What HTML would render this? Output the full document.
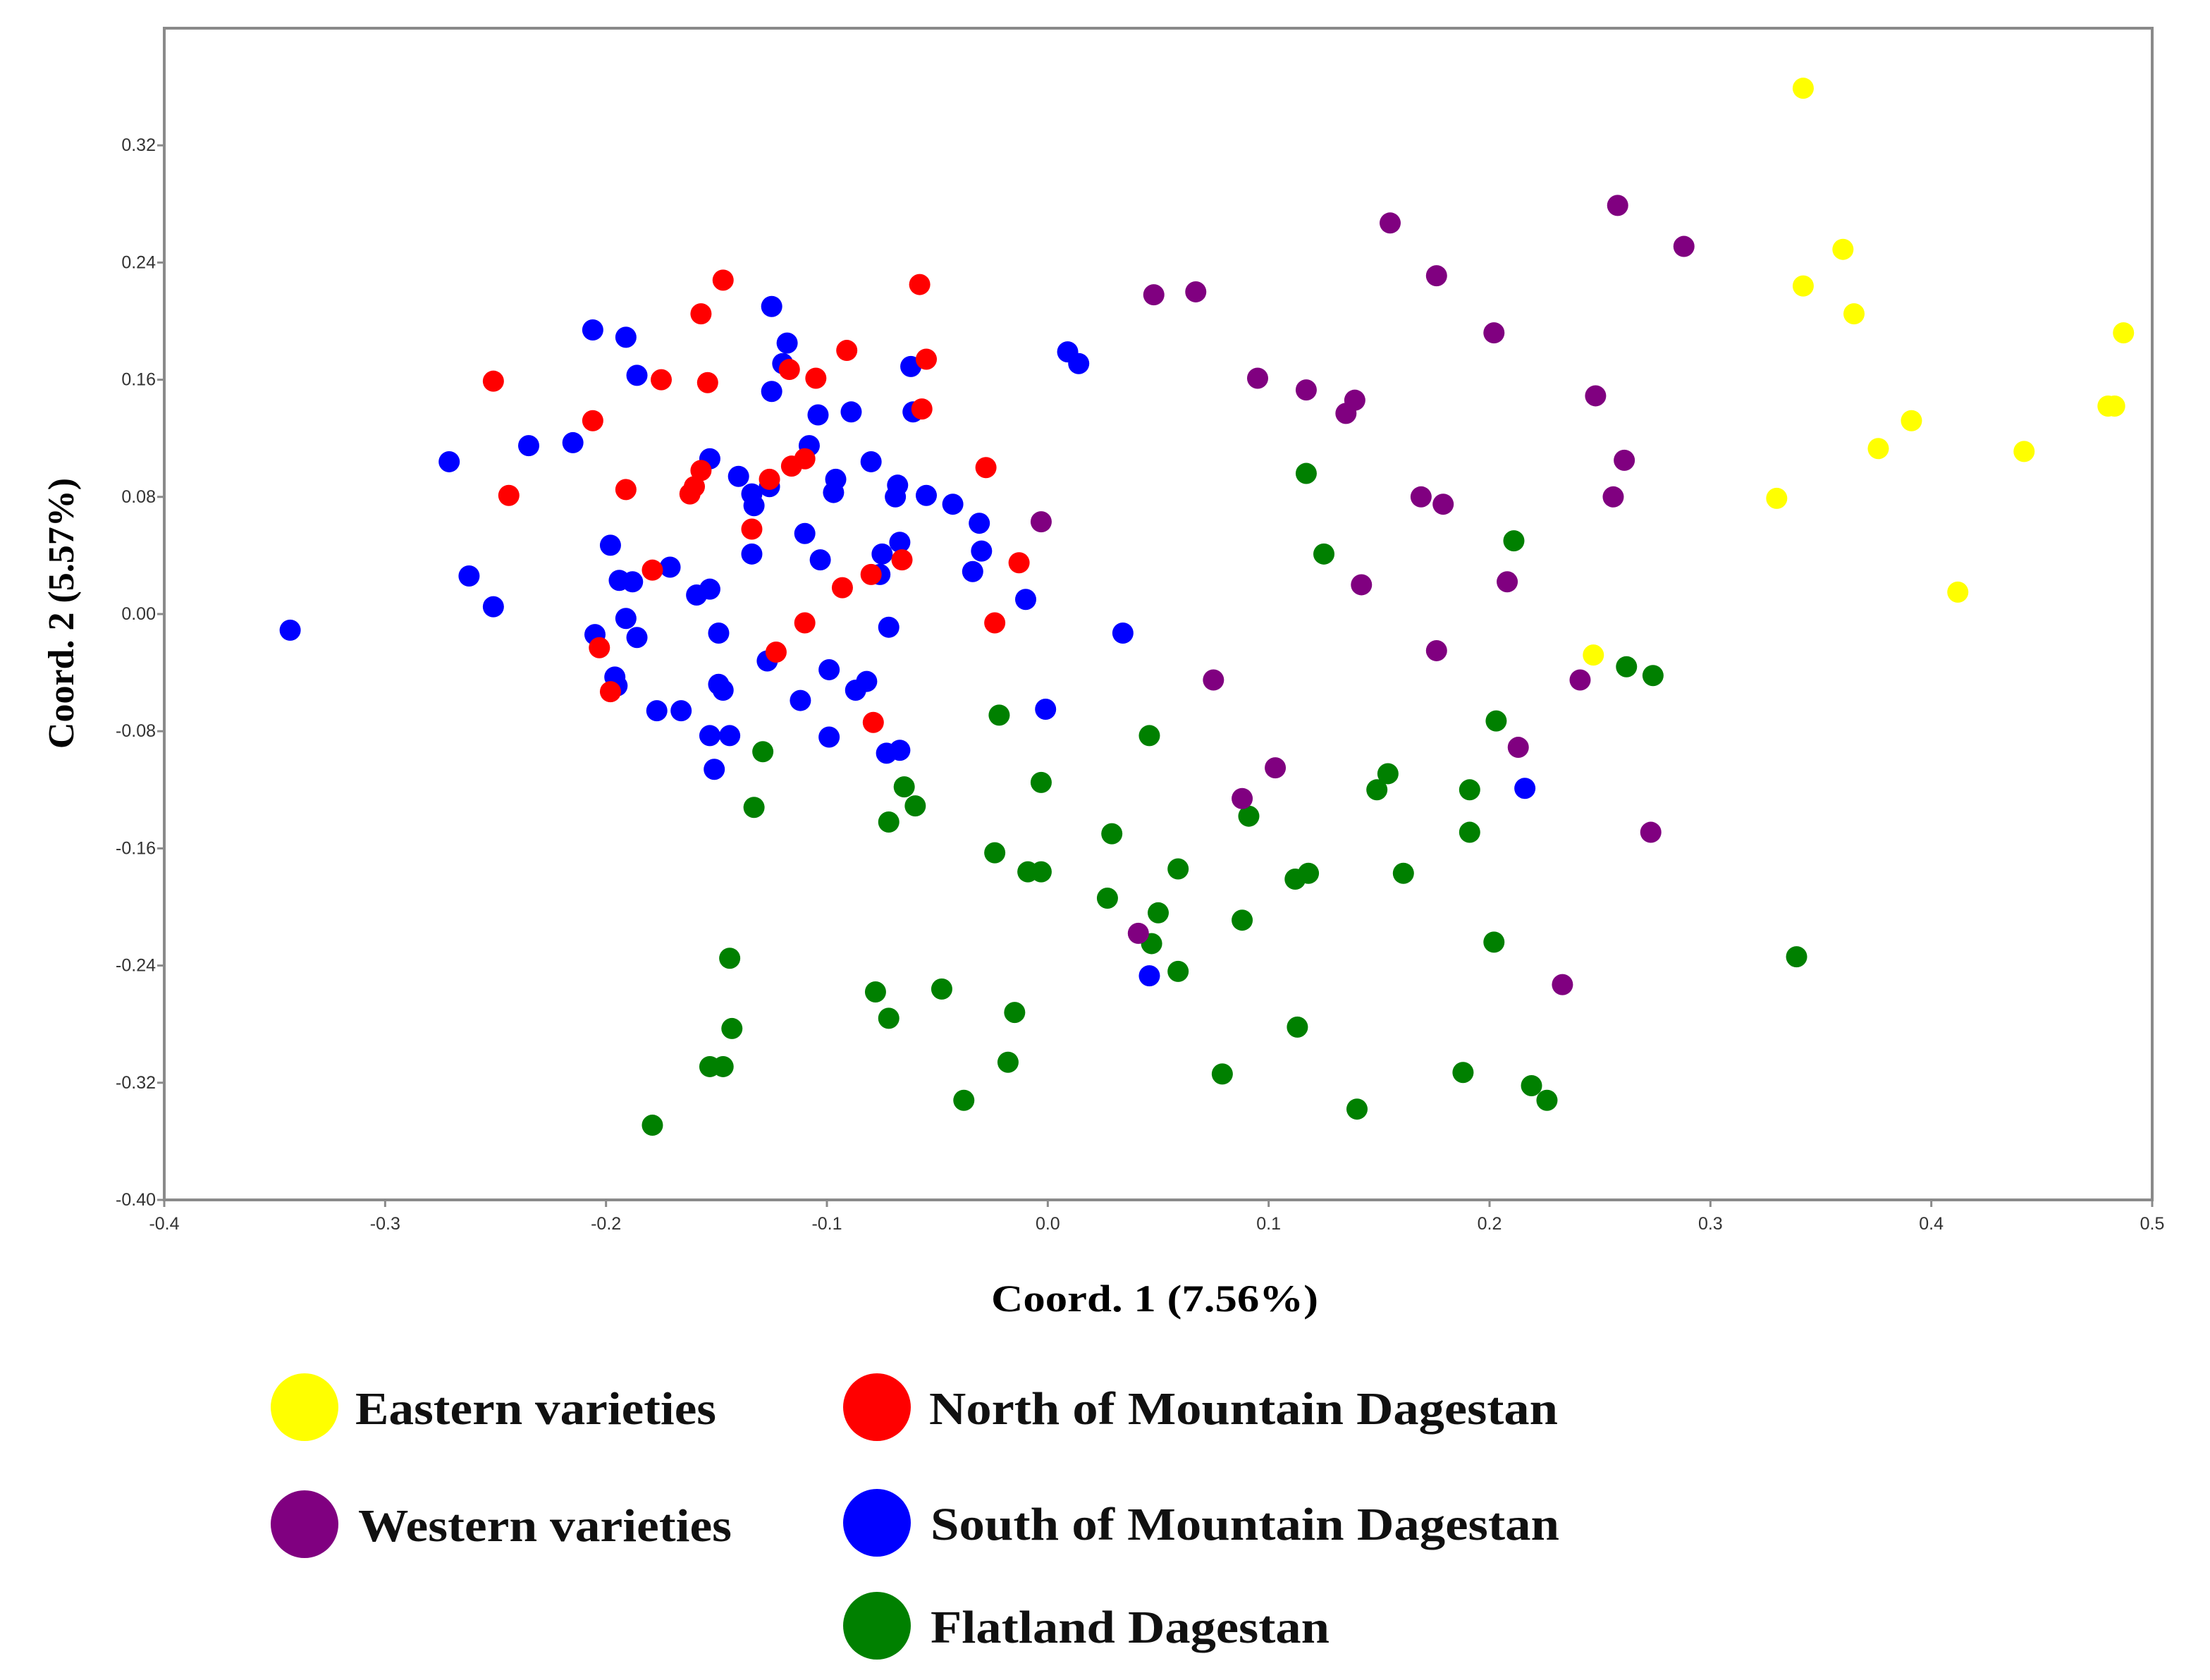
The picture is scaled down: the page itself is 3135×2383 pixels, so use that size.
<!DOCTYPE html>
<html><head><meta charset="utf-8"><style>
html,body{margin:0;padding:0;background:#fff;}
svg{display:block;}
</style></head><body>
<svg id="chart" width="3135" height="2383" xmlns="http://www.w3.org/2000/svg">
<g id="grid"></g>
<g id="pts"></g>
<text x="1406" y="1860" textLength="464" lengthAdjust="spacingAndGlyphs" font-family="Liberation Serif, serif" font-weight="bold" font-size="54">Coord. 1 (7.56%)</text>
<text transform="translate(104,870) rotate(-90)" text-anchor="middle" font-family="Liberation Serif, serif" font-weight="bold" font-size="52">Coord. 2 (5.57%)</text>
<g font-family="Liberation Serif, serif" font-weight="bold" font-size="66" fill="#111">
<g><circle cx="432" cy="1996" r="48" fill="#ffff00"/><text x="504" y="2020" textLength="512" lengthAdjust="spacingAndGlyphs">Eastern varieties</text></g>
<g><circle cx="432" cy="2162" r="48" fill="#800080"/><text x="508" y="2186" textLength="530" lengthAdjust="spacingAndGlyphs">Western varieties</text></g>
<g><circle cx="1244" cy="1996" r="48" fill="#ff0000"/><text x="1318" y="2020" textLength="892" lengthAdjust="spacingAndGlyphs">North of Mountain Dagestan</text></g>
<g><circle cx="1244" cy="2160" r="48" fill="#0000ff"/><text x="1320" y="2184" textLength="892" lengthAdjust="spacingAndGlyphs">South of Mountain Dagestan</text></g>
<g><circle cx="1244" cy="2306" r="48" fill="#008000"/><text x="1320" y="2330" textLength="566" lengthAdjust="spacingAndGlyphs">Flatland Dagestan</text></g>
</g>
</svg>
<script>
const xTicks=[-0.4,-0.3,-0.2,-0.1,0,0.1,0.2,0.3,0.4,0.5];
const xTickLabels=["-0.4","-0.3","-0.2","-0.1","0.0","0.1","0.2","0.3","0.4","0.5"];
const yTicks=[-0.40,-0.32,-0.24,-0.16,-0.08,0,0.08,0.16,0.24,0.32];
const yTickLabels=["-0.40","-0.32","-0.24","-0.16","-0.08","0.00","0.08","0.16","0.24","0.32"];
const easternX=[0.342,0.360,0.342,0.365,0.487,0.391,0.480,0.483,0.376,0.442,0.330,0.412,0.247];
const easternY=[0.359,0.249,0.224,0.205,0.192,0.132,0.142,0.142,0.113,0.111,0.079,0.015,-0.028];
const westernX=[0.258,0.155,0.288,0.176,0.067,0.048,0.202,0.095,0.117,0.139,0.135,0.248,0.261,0.169,0.179,0.256,-0.003,0.142,0.208,0.176,0.075,0.241,0.213,0.103,0.088,0.273,0.041,0.233];
const westernY=[0.279,0.267,0.251,0.231,0.220,0.218,0.192,0.161,0.153,0.146,0.137,0.149,0.105,0.080,0.075,0.080,0.063,0.020,0.022,-0.025,-0.045,-0.045,-0.091,-0.105,-0.126,-0.149,-0.218,-0.253];
const northX=[-0.147,-0.058,-0.157,-0.091,-0.055,-0.117,-0.105,-0.251,-0.175,-0.154,-0.057,-0.206,-0.157,-0.110,-0.116,-0.028,-0.126,-0.160,-0.162,-0.191,-0.244,-0.134,-0.066,-0.013,-0.080,-0.179,-0.093,-0.110,-0.024,-0.203,-0.123,-0.198,-0.079];
const northY=[0.228,0.225,0.205,0.180,0.174,0.167,0.161,0.159,0.160,0.158,0.140,0.132,0.098,0.106,0.101,0.100,0.092,0.087,0.082,0.085,0.081,0.058,0.037,0.035,0.027,0.030,0.018,-0.006,-0.006,-0.023,-0.026,-0.053,-0.074];
const southX=[-0.343,-0.271,-0.235,-0.215,-0.206,-0.191,-0.186,-0.125,-0.118,-0.120,-0.125,-0.104,-0.089,-0.062,-0.061,0.009,0.014,-0.108,-0.080,-0.153,-0.140,-0.134,-0.133,-0.126,-0.096,-0.097,-0.068,-0.069,-0.055,-0.043,-0.031,-0.030,-0.034,-0.198,-0.110,-0.134,-0.103,-0.075,-0.067,-0.076,-0.171,-0.194,-0.188,-0.262,-0.251,-0.153,-0.159,-0.191,-0.205,-0.186,-0.149,-0.072,-0.010,0.034,-0.127,-0.099,-0.196,-0.195,-0.149,-0.147,-0.112,-0.082,-0.087,-0.177,-0.166,-0.001,-0.153,-0.144,-0.099,-0.073,-0.067,-0.151,0.216,0.046];
const southY=[-0.011,0.104,0.115,0.117,0.194,0.189,0.163,0.210,0.185,0.171,0.152,0.136,0.138,0.169,0.138,0.179,0.171,0.115,0.104,0.106,0.094,0.082,0.074,0.087,0.092,0.083,0.088,0.080,0.081,0.075,0.062,0.043,0.029,0.047,0.055,0.041,0.037,0.041,0.049,0.027,0.032,0.023,0.022,0.026,0.005,0.017,0.013,-0.003,-0.014,-0.016,-0.013,-0.009,0.010,-0.013,-0.032,-0.038,-0.043,-0.049,-0.048,-0.052,-0.059,-0.046,-0.052,-0.066,-0.066,-0.065,-0.083,-0.083,-0.084,-0.095,-0.093,-0.106,-0.119,-0.247];
const flatX=[0.117,0.211,0.125,0.262,0.274,-0.022,0.046,0.203,-0.129,0.154,0.149,0.191,-0.003,-0.065,-0.060,-0.133,-0.072,0.091,0.029,0.191,-0.024,-0.009,-0.003,0.059,0.112,0.118,0.161,0.027,0.050,0.088,0.047,0.202,0.059,-0.144,0.339,-0.048,-0.078,-0.015,-0.072,-0.143,0.113,-0.153,-0.147,-0.018,0.079,0.188,0.219,0.226,-0.038,0.140,-0.179];
const flatY=[0.096,0.050,0.041,-0.036,-0.042,-0.069,-0.083,-0.073,-0.094,-0.109,-0.120,-0.120,-0.115,-0.118,-0.131,-0.132,-0.142,-0.138,-0.150,-0.149,-0.163,-0.176,-0.176,-0.174,-0.181,-0.177,-0.177,-0.194,-0.204,-0.209,-0.225,-0.224,-0.244,-0.235,-0.234,-0.256,-0.258,-0.272,-0.276,-0.283,-0.282,-0.309,-0.309,-0.306,-0.314,-0.313,-0.322,-0.332,-0.332,-0.338,-0.349];

const NS='http://www.w3.org/2000/svg';
const L=233,R=3053,T=40,B=1702;
const X0=-0.4,X1=0.5,Y0=-0.4,Y1=0.4;
function sx(v){return L+(v-X0)/(X1-X0)*(R-L);}
function sy(v){return B-(v-Y0)/(Y1-Y0)*(B-T);}
function mk(tag,attrs,parent){const e=document.createElementNS(NS,tag);for(const k in attrs)e.setAttribute(k,attrs[k]);parent.appendChild(e);return e;}
const g=document.getElementById('grid');
const frame=mk('rect',{x:L,y:T,width:R-L,height:B-T,fill:'none',stroke:'#8a8a8a','stroke-width':4},g);


xTicks.forEach((v,i)=>{
  const t=mk('line',{x1:sx(v),x2:sx(v),y1:B,y2:B+10,stroke:'#8a8a8a','stroke-width':3},g);
  
  
  const lb=mk('text',{x:sx(v),y:B+42,'text-anchor':'middle','font-family':'Liberation Sans, sans-serif','font-size':25,fill:'#333'},g);
  lb.textContent=xTickLabels[i];
  
  
});
yTicks.forEach((v,i)=>{
  const t=mk('line',{x1:L-10,x2:L,y1:sy(v),y2:sy(v),stroke:'#8a8a8a','stroke-width':3},g);
  
  
  const lb=mk('text',{x:L-12,y:sy(v)+8,'text-anchor':'end','font-family':'Liberation Sans, sans-serif','font-size':25,fill:'#333'},g);
  lb.textContent=yTickLabels[i];
  
  
});
const p=document.getElementById('pts');
function series(xs,ys,color,name){
  xs.forEach((v,i)=>{
    const c=mk('circle',{cx:sx(v),cy:sy(ys[i]),r:15,fill:color},p);
    
    
  });
}
series(flatX,flatY,'#008000','point-flatland');
series(westernX,westernY,'#800080','point-western');
series(southX,southY,'#0000ff','point-south');
series(northX,northY,'#ff0000','point-north');
series(easternX,easternY,'#ffff00','point-eastern');
</script>
</body></html>
